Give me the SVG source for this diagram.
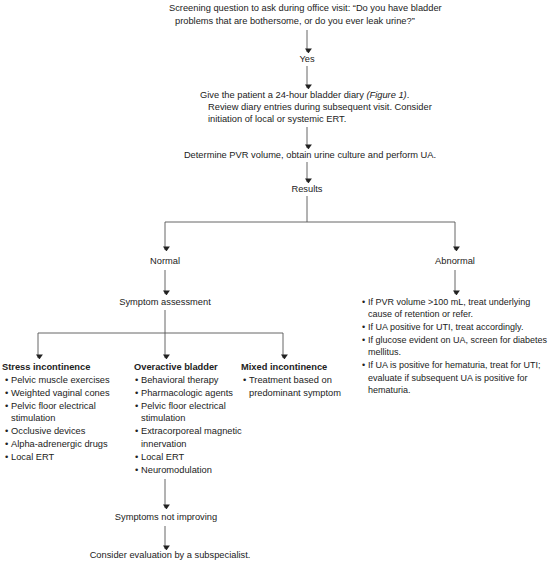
<svg xmlns="http://www.w3.org/2000/svg" width="552" height="562" viewBox="0 0 552 562">
<defs>
<marker id="ah" markerWidth="5" markerHeight="7" refX="5" refY="3.5" orient="auto" markerUnits="userSpaceOnUse" viewBox="0 0 7 5" preserveAspectRatio="none">
<path d="M0,0 L7,2.5 L0,5 Z" fill="#222"/>
</marker>
</defs>
<style>
text{font-family:"Liberation Sans",Arial,sans-serif;font-size:9.3px;fill:#222}
.c{text-anchor:middle}
.b{font-weight:bold}
.s{font-size:9px}
.ln{stroke:#555;stroke-width:0.9;fill:none}
.ar{stroke:#555;stroke-width:0.9;fill:none;marker-end:url(#ah)}
</style>
<rect width="552" height="562" fill="#fff"/>
<g id="connectors">
<line class="ar" x1="307" y1="30" x2="307" y2="52"/>
<line class="ar" x1="307" y1="66" x2="307" y2="88"/>
<line class="ar" x1="307" y1="127" x2="307" y2="148"/>
<line class="ar" x1="307" y1="162" x2="307" y2="182"/>
<polyline class="ln" points="307,196 307,222"/>
<polyline class="ar" points="307,222 165,222 165,250"/>
<polyline class="ar" points="307,222 455,222 455,250"/>
<line class="ar" x1="165" y1="270" x2="165" y2="294"/>
<line class="ar" x1="455" y1="270" x2="455" y2="294"/>
<polyline class="ln" points="165,310 165,333"/>
<polyline class="ar" points="165,333 38,333 38,358"/>
<line class="ar" x1="165" y1="333" x2="165" y2="358"/>
<polyline class="ar" points="165,333 283,333 283,358"/>
<line class="ar" x1="165" y1="479" x2="165" y2="508"/>
<line class="ar" x1="165" y1="526" x2="165" y2="549"/>
</g>
<g id="screening">
<text x="169" y="11">Screening question to ask during office visit: “Do you have bladder</text>
<text x="175" y="24">problems that are bothersome, or do you ever leak urine?”</text>
</g>
<g id="yes"><text class="c" x="307" y="62">Yes</text></g>
<g id="diary">
<text x="200" y="98">Give the patient a 24-hour bladder diary <tspan font-style="italic">(Figure 1)</tspan>.</text>
<text x="208" y="110">Review diary entries during subsequent visit. Consider</text>
<text x="208" y="122">initiation of local or systemic ERT.</text>
</g>
<g id="determine"><text class="c" x="310" y="158">Determine PVR volume, obtain urine culture and perform UA.</text></g>
<g id="results"><text class="c" x="307" y="192">Results</text></g>
<g id="normal"><text class="c" x="165" y="264">Normal</text></g>
<g id="abnormal"><text class="c" x="455" y="264">Abnormal</text></g>
<g id="symptom"><text class="c" x="165" y="305">Symptom assessment</text></g>
<g id="abnormal-list">
<text class="s" x="362" y="305">•</text><text class="s" x="368" y="305">If PVR volume &gt;100 mL, treat underlying</text>
<text class="s" x="368" y="317">cause of retention or refer.</text>
<text class="s" x="362" y="330">•</text><text class="s" x="368" y="330">If UA positive for UTI, treat accordingly.</text>
<text class="s" x="362" y="343">•</text><text class="s" x="368" y="343">If glucose evident on UA, screen for diabetes</text>
<text class="s" x="368" y="355">mellitus.</text>
<text class="s" x="362" y="368">•</text><text class="s" x="368" y="368">If UA is positive for hematuria, treat for UTI;</text>
<text class="s" x="368" y="381">evaluate if subsequent UA is positive for</text>
<text class="s" x="368" y="393">hematuria.</text>
</g>
<g id="stress">
<text class="b" x="2" y="370">Stress incontinence</text>
<text x="5" y="383">•</text><text x="11" y="383">Pelvic muscle exercises</text>
<text x="5" y="396">•</text><text x="11" y="396">Weighted vaginal cones</text>
<text x="5" y="409">•</text><text x="11" y="409">Pelvic floor electrical</text>
<text x="11" y="421">stimulation</text>
<text x="5" y="434">•</text><text x="11" y="434">Occlusive devices</text>
<text x="5" y="447">•</text><text x="11" y="447">Alpha-adrenergic drugs</text>
<text x="5" y="460">•</text><text x="11" y="460">Local ERT</text>
</g>
<g id="overactive">
<text class="b" x="134" y="370">Overactive bladder</text>
<text x="135" y="383">•</text><text x="141" y="383">Behavioral therapy</text>
<text x="135" y="396">•</text><text x="141" y="396">Pharmacologic agents</text>
<text x="135" y="409">•</text><text x="141" y="409">Pelvic floor electrical</text>
<text x="141" y="421">stimulation</text>
<text x="135" y="434">•</text><text x="141" y="434">Extracorporeal magnetic</text>
<text x="141" y="447">innervation</text>
<text x="135" y="460">•</text><text x="141" y="460">Local ERT</text>
<text x="135" y="473">•</text><text x="141" y="473">Neuromodulation</text>
</g>
<g id="mixed">
<text class="b" x="241" y="370">Mixed incontinence</text>
<text x="243" y="383">•</text><text x="249" y="383">Treatment based on</text>
<text x="249" y="396">predominant symptom</text>
</g>
<g id="not-improving"><text class="c" x="166" y="520">Symptoms not improving</text></g>
<g id="subspecialist"><text class="c" x="170" y="558">Consider evaluation by a subspecialist.</text></g>
</svg>
